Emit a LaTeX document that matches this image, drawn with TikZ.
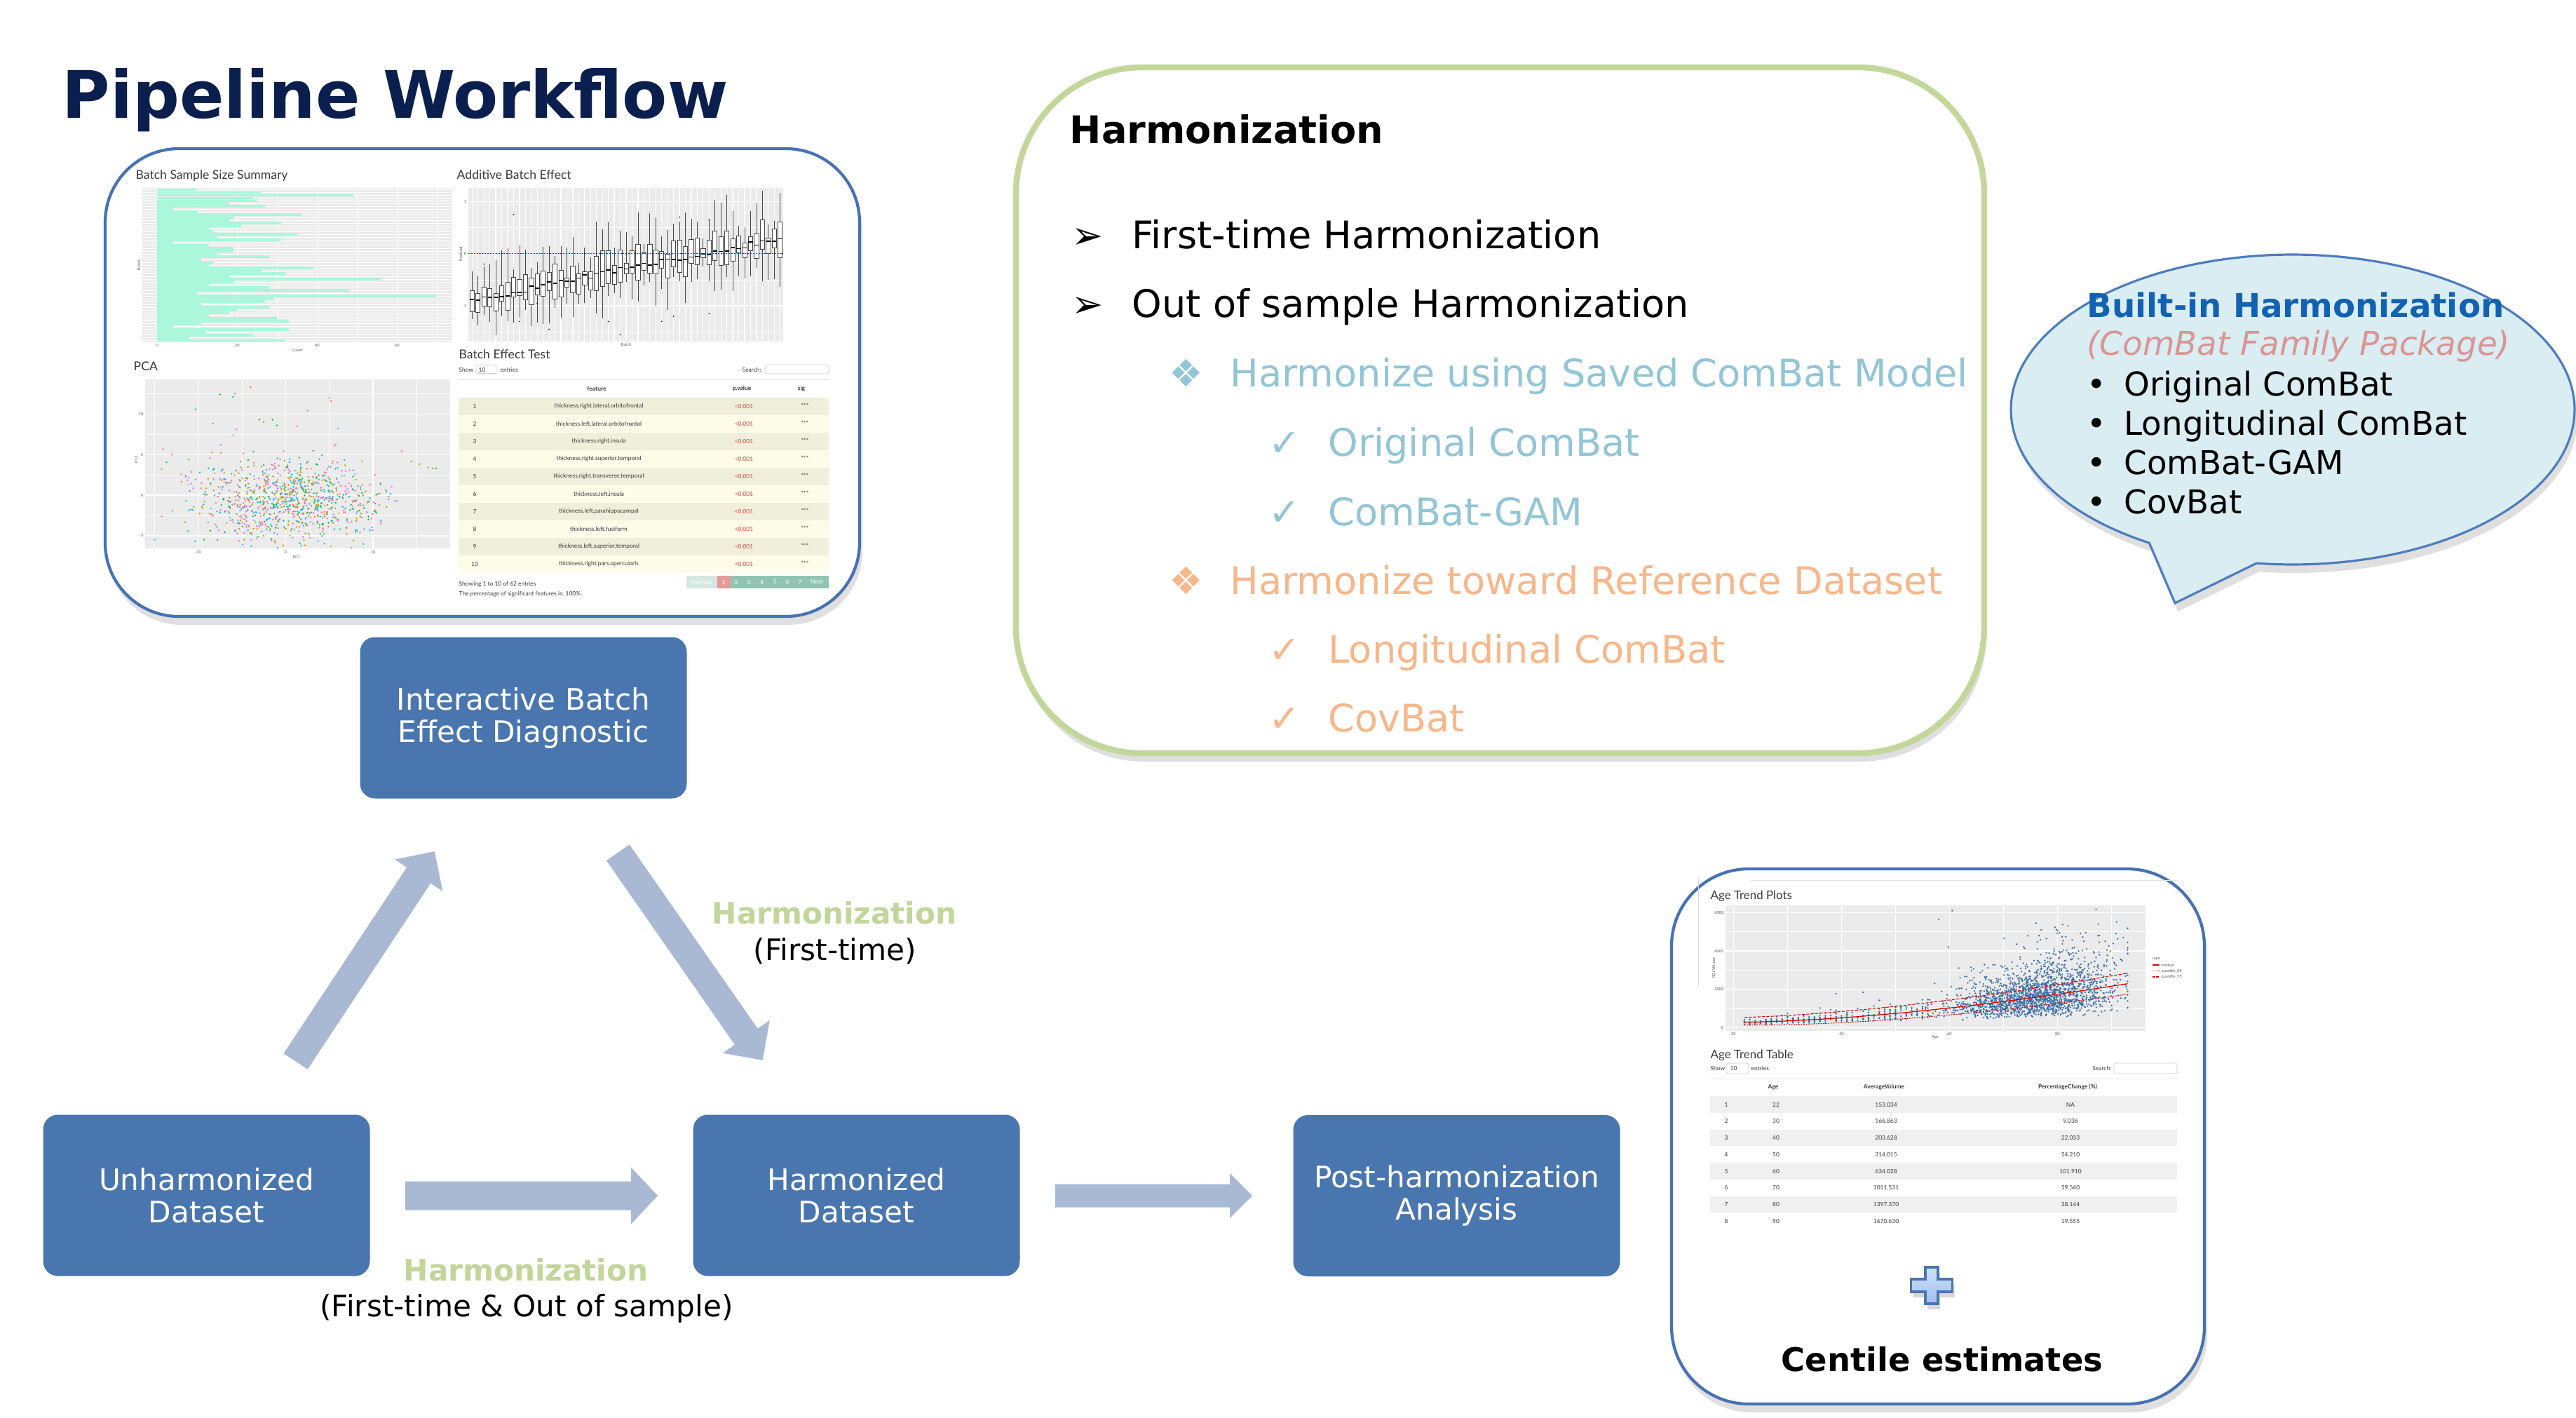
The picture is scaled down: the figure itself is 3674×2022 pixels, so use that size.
\documentclass[tikz,border=0pt]{standalone}
\usepackage{fontspec}
\setmainfont{DejaVu Sans}
\newfontfamily\shotfont{Lato}
\usetikzlibrary{arrows.meta,shadows,calc}
\definecolor{boxblue}{HTML}{4A76B0}
\definecolor{arrowblue}{HTML}{A9B9D4}
\definecolor{navy}{HTML}{0B1F4F}
\definecolor{labgreen}{HTML}{C2D59A}
\definecolor{panelgreen}{HTML}{C4D79B}
\definecolor{hteal}{HTML}{92C5D6}
\definecolor{horange}{HTML}{F7B78A}
\definecolor{bubfill}{HTML}{DAEDF3}
\definecolor{bubline}{HTML}{4D7CBE}
\definecolor{bubtitle}{HTML}{1262B3}
\definecolor{bubpink}{HTML}{D99694}
\definecolor{frameblue}{HTML}{4672B4}
\definecolor{ggbg}{HTML}{EBEBEB}
\definecolor{barcol}{HTML}{AAF7DC}
\definecolor{ptblue}{HTML}{3E70A8}
\definecolor{rowA}{HTML}{EFEFDC}
\definecolor{rowB}{HTML}{FCFCE9}
\definecolor{pgprev}{HTML}{D4E7E1}
\definecolor{pgone}{HTML}{E59A9A}
\definecolor{pgrest}{HTML}{92C4B3}
\definecolor{pvred}{HTML}{E8413C}
\definecolor{shottext}{HTML}{3A3A3A}
\definecolor{tabgray}{HTML}{F0F0F0}
\definecolor{plustop}{HTML}{CFE0F8}
\definecolor{plusbot}{HTML}{9FC0EE}
\definecolor{pcacol1}{HTML}{F8766D}
\definecolor{pcacol2}{HTML}{D39200}
\definecolor{pcacol3}{HTML}{93AA00}
\definecolor{pcacol4}{HTML}{00BA38}
\definecolor{pcacol5}{HTML}{00C19F}
\definecolor{pcacol6}{HTML}{00B9E3}
\definecolor{pcacol7}{HTML}{619CFF}
\definecolor{pcacol8}{HTML}{DB72FB}
\definecolor{pcacol9}{HTML}{FF61C3}
\newcommand{\blockarrowdraw}[5]{%
  \coordinate (#2-hb) at ($(#2)!#5!(#1)$);
  \fill[arrowblue] ($(#1)!#3!90:(#2)$) -- ($(#2-hb)!#3!90:(#2)$) -- ($(#2-hb)!#4!90:(#2)$) -- (#2)
     -- ($(#2-hb)!#4!-90:(#2)$) -- ($(#2-hb)!#3!-90:(#2)$) -- ($(#1)!#3!-90:(#2)$) -- cycle;}
\begin{document}
\begin{tikzpicture}[x=0.1mm,y=-0.1mm,
  tb/.style={inner sep=0pt, anchor=base west},
  tc/.style={inner sep=0pt, anchor=base},
  procbox/.style={fill=boxblue, rounded corners=2.1mm, minimum width=46.6mm, minimum height=23mm, inner sep=0pt, text=white, align=center, font=\fontsize{12}{13.1}\selectfont},
  shotframe/.style={draw=frameblue, line width=1.2pt, fill=white, inner sep=0pt, drop shadow={shadow xshift=0.4mm, shadow yshift=-1.2mm, opacity=0.25}},
  harmtxt/.style={tb, font=\fontsize{15.4}{18}\selectfont},
  bubtxt/.style={tb, font=\fontsize{13.3}{16}\selectfont},
  armlab/.style={tc, font=\fontsize{12}{14}\selectfont},
  shot/.style={inner sep=0pt, text=shottext, font=\shotfont\fontsize{2.4}{2.9}\selectfont},
  shotb/.style={shot, font=\shotfont\bfseries\fontsize{2.4}{2.9}\selectfont},
  shothead/.style={tb, text=shottext, font=\shotfont\fontsize{5}{6}\selectfont},
  axlab/.style={inner sep=0pt, text=gray!70!black, font=\shotfont\fontsize{1.6}{2}\selectfont},
  ggmajor/.style={white, line width=0.35pt},
  ggminor/.style={white, line width=0.18pt},
  boxline/.style={draw=gray!55!black, line width=0.22pt},
]
\useasboundingbox (0,0) rectangle (3674,2022);
\fill[white] (0,0) rectangle (3674,2022);
\pgfmathsetseed{4242}

% ---------- title
\node[tb, text=navy, font=\bfseries\fontsize{26.6}{30}\selectfont] (title) at (88,169) {Pipeline Workflow};

% ---------- diagnostic screenshot
\node[shotframe, rounded corners=10.5mm, minimum width=107.6mm, minimum height=66.7mm] (diagframe) at (688,545.5) {};

% bar chart
\node[shothead] (bsst) at (193,256) {Batch Sample Size Summary};
\fill[ggbg] (203,268) rectangle (645,488);
\foreach \gx in {281.3,395.3,509.3,623.3} \draw[ggminor] (\gx,268) -- (\gx,488);
\foreach \gx in {224.3,338.3,452.3,566.3} \draw[ggmajor] (\gx,268) -- (\gx,488);
\foreach \kk in {1,...,55} \draw[white, line width=0.2pt] (203,{268.3+3.99*(\kk-0.5)}) -- (645,{268.3+3.99*(\kk-0.5)});
\foreach \bv [count=\kk] in {10,26,49,24,25,18,27,4,10,36,19,18,31,21,13,14,35,15,31,4,13,19,19,15,28,11,14,13,39,26,32,18,56,19,13,28,48,10,70,29,27,11,28,20,18,13,30,33,11,4,33,12,24,8,32}
  \fill[barcol] (224.3,{268.3+3.99*(\kk-1)+0.25}) rectangle ({224.3+5.7*\bv},{268.3+3.99*\kk-0.25});
\foreach \tt/\gx in {0/224.3,20/338.3,40/452.3,60/566.3} \node[axlab, anchor=north] (bx\tt) at (\gx,490) {\tt};
\node[axlab, anchor=north] (bcount) at (424,497) {Count};
\node[axlab, rotate=90] (bbatch) at (198,378) {Batch};

% boxplot
\node[shothead] (abet) at (651,256) {Additive Batch Effect};
\fill[ggbg] (668,268) rectangle (1117,487);
\foreach \gy in {324.5,398.9,473.3} \draw[ggminor] (668,\gy) -- (1117,\gy);
\foreach \gy in {287.3,361.7,436.1} \draw[ggmajor] (668,\gy) -- (1117,\gy);
\foreach \ii in {0,...,52} \draw[ggmajor] ({673.3+8.45*\ii},268) -- ({673.3+8.45*\ii},487);
\begin{scope}
\clip (668,268) rectangle (1117,487);
\foreach \ii in {0,...,52}{
  \pgfmathsetmacro\cx{673.3+8.45*\ii}
  \pgfmathsetmacro\md{-0.9+1.2*\ii/52+0.06*rand}
  \pgfmathsetmacro\qa{\md-0.06-0.3*rnd}
  \pgfmathsetmacro\qb{\md+0.06+0.35*rnd}
  \pgfmathsetmacro\wa{\qa-0.15-0.5*rnd}
  \pgfmathsetmacro\wb{\qb+0.15+0.55*rnd}
  \draw[boxline] (\cx,{361.7-74.4*\wa}) -- (\cx,{361.7-74.4*\qa});
  \draw[boxline] (\cx,{361.7-74.4*\qb}) -- (\cx,{361.7-74.4*\wb});
  \filldraw[fill=white, boxline] ({\cx-3.1},{361.7-74.4*\qa}) rectangle ({\cx+3.1},{361.7-74.4*\qb});
  \draw[black, line width=0.45pt] ({\cx-3.1},{361.7-74.4*\md}) -- ({\cx+3.1},{361.7-74.4*\md});
}
\foreach \oi/\ov in {2/-0.2,4/-1.1,7/0.75,8/-1.3,11/-0.95,13/-1.45,23/-1.3,25/-1.55,32/-1.3,34/-1.2,35/0.7,40/0.65,40/-1.15}
  \fill[black] ({673.3+8.45*\oi},{361.7-74.4*\ov}) circle[radius=0.1mm];
\draw[red!85!black, line width=0.3pt, dash pattern=on 0.6pt off 0.5pt] (668,361.7) -- (1117,361.7);
\end{scope}
\foreach \tt/\gy in {1/287.3,0/361.7,-1/436.1} \node[axlab, anchor=east] (by\tt) at (666,\gy) {\tt};
\node[axlab, rotate=90] (bresid) at (657,362) {Residual};
\node[axlab, anchor=north] (bbatch2) at (893,489) {Batch};

% PCA
\node[shothead] (pcat) at (190,528) {PCA};
\fill[ggbg] (207,541) rectangle (642,782);
\foreach \gx in {220,344.9,469.7,594.5} \draw[ggminor] (\gx,541) -- (\gx,782);
\foreach \gx in {282.5,407.3,532.1} \draw[ggmajor] (\gx,541) -- (\gx,782);
\foreach \gy in {561.4,619.2,677.1,735} \draw[ggminor] (207,\gy) -- (642,\gy);
\foreach \gy in {590.3,648.2,706,763.9} \draw[ggmajor] (207,\gy) -- (642,\gy);
\begin{scope}
\clip (207,541) rectangle (642,782);
\foreach \ii in {1,...,950}{
  \pgfmathsetmacro\pxx{407.3+12.48*5.3*(rand+rand+rand)}
  \pgfmathsetmacro\pyy{706-11.57*(-0.6+2.5*(rand+rand+rand))}
  \pgfmathtruncatemacro\pcc{random(1,9)}
  \fill[fill=pcacol\pcc] (\pxx,\pyy) circle[radius=0.13mm];
}
\foreach \ox/\oy/\oc in {-7.5/12.4/4,-6/12.1/4,-5.8/12.5/1,-4/13.3/1,-10.3/10.6/6,5/12/1,5.2/11.6/1,2.5/10.4/9,-8.3/8.8/6,-3/9.3/4,-2.5/9/3,-1.5/9.3/4,-1/8.6/4,1.3/8.5/9,6/8.2/7,16.3/3.4/3,16.8/3.3/3,17.2/3.3/4,15.3/3.8/3,-14/5.7/1,-13/5/1,-9.3/-5.5/4,0.5/-5/2,-6/7.4/8,-5.6/8.1/8,-7.4/6.2/7}
  \fill[fill=pcacol\oc] ({407.3+12.48*\ox},{706-11.57*\oy}) circle[radius=0.13mm];
\end{scope}
\foreach \tt/\gx in {-10/282.5,0/407.3,10/532.1} \node[axlab, anchor=north] (px\tt) at (\gx,785) {\tt};
\foreach \tt/\gy in {10/590.3,5/648.2,0/706,-5/763.9} \node[axlab, anchor=east] (py\tt) at (205,\gy) {\tt};
\node[axlab, anchor=north] (pc1) at (423,792) {PC1};
\node[axlab, rotate=90] (pc2) at (194,655) {PC2};

% Batch effect test table
\node[shothead] (bett) at (654,511) {Batch Effect Test};
\node[shot, anchor=west] (bshow) at (654,527) {Show};
\draw[gray!40, line width=0.2pt, rounded corners=0.3mm] (678,520.5) rectangle (708,532.6);
\node[shot, anchor=west] (bten) at (682,527) {10};
\node[shot, anchor=west] (bentr) at (713,527) {entries};
\node[shot, anchor=west] (bsearch) at (1058,527) {Search:};
\draw[gray!40, line width=0.2pt, rounded corners=0.3mm] (1091,520) rectangle (1182,533);
\draw[gray!25, line width=0.2pt] (654,541.5) -- (1182,541.5);
\node[shotb] (hfeat) at (851,554) {feature};
\node[shotb] (hpval) at (1058,554) {p.value};
\node[shotb] (hsig) at (1143,554) {sig};
\fill[rowB] (654,567) rectangle (1182,817);
\foreach \kk in {1,3,5,7,9} \fill[rowA] (654,{567+25*(\kk-1)}) rectangle (1182,{567+25*\kk});
\foreach \ff [count=\kk] in {thickness.right.lateral.orbitofrontal,thickness.left.lateral.orbitofrontal,thickness.right.insula,thickness.right.superior.temporal,thickness.right.transverse.temporal,thickness.left.insula,thickness.left.parahippocampal,thickness.left.fusiform,thickness.left.superior.temporal,thickness.right.pars.opercularis}{
  \node[shot] (bn\kk) at (677,{579.5+25*(\kk-1)}) {\kk};
  \node[shot] (bf\kk) at (854,{579.5+25*(\kk-1)}) {\ff};
  \node[shot, text=pvred] (bp\kk) at (1061,{579.5+25*(\kk-1)}) {<0.001};
  \node[shot] (bs\kk) at (1148,{578.5+25*(\kk-1)}) {***};
}
\node[shot, anchor=west] (bshowing) at (654,833) {Showing 1 to 10 of 62 entries};
\node[shot, anchor=west] (bpct) at (654,847) {The percentage of significant features is: 100\%.};
\fill[pgprev] (979,821) rectangle (1022.5,839);
\fill[pgone] (1022.5,821) rectangle (1042,839);
\fill[pgrest] (1042,821) rectangle (1182,839);
\node[shot, text=white] (pgp) at (1000.7,830) {Previous};
\node[shot, text=white] (pg1) at (1032,830) {1};
\foreach \tt/\gx in {2/1050,3/1068,4/1086.7,5/1105,6/1123,7/1141} \node[shot, text=white] (pg\tt) at (\gx,830) {\tt};
\node[shot, text=white] (pgn) at (1165,830) {Next};

% ---------- Harmonization panel
\node[draw=panelgreen, line width=2.4pt, fill=white, rounded corners=18mm, minimum width=138.1mm, minimum height=97.8mm, inner sep=0pt, drop shadow={shadow xshift=0.3mm, shadow yshift=-1.2mm, opacity=0.25}] (hpanel) at (2139.5,585) {};
\node[tb, font=\bfseries\fontsize{15.4}{18}\selectfont] (hhead) at (1525,205) {Harmonization};
\node[harmtxt] (hb1) at (1528,355) {➢};
\node[harmtxt] (ht1) at (1614,355) {First-time Harmonization};
\node[harmtxt] (hb2) at (1528,453) {➢};
\node[harmtxt] (ht2) at (1614,453) {Out of sample Harmonization};
\node[harmtxt, text=hteal] (hb3) at (1667,552) {❖};
\node[harmtxt, text=hteal] (ht3) at (1754,552) {Harmonize using Saved ComBat Model};
\node[harmtxt, text=hteal] (hb4) at (1809,650) {✓};
\node[harmtxt, text=hteal] (ht4) at (1894,650) {Original ComBat};
\node[harmtxt, text=hteal] (hb5) at (1809,749) {✓};
\node[harmtxt, text=hteal] (ht5) at (1894,749) {ComBat-GAM};
\node[harmtxt, text=horange] (hb6) at (1667,847) {❖};
\node[harmtxt, text=horange] (ht6) at (1754,847) {Harmonize toward Reference Dataset};
\node[harmtxt, text=horange] (hb7) at (1809,945) {✓};
\node[harmtxt, text=horange] (ht7) at (1894,945) {Longitudinal ComBat};
\node[harmtxt, text=horange] (hb8) at (1809,1043) {✓};
\node[harmtxt, text=horange] (ht8) at (1894,1043) {CovBat};

% ---------- speech bubble
\filldraw[fill=bubfill, draw=bubline, line width=0.9pt, drop shadow={shadow xshift=0.4mm, shadow yshift=-1.2mm, opacity=0.25}]
  plot[domain=-239.4:97.4, samples=160] ({3270+402*cos(\x)},{584+221*sin(\x)}) -- (3102,860) -- cycle;
\node[tb, text=bubtitle, font=\bfseries\fontsize{13.3}{16}\selectfont] (bub1) at (2976,453) {Built-in Harmonization};
\node[tb, text=bubpink, font=\itshape\fontsize{13.3}{16}\selectfont] (bub2) at (2976,507) {(ComBat Family Package)};
\foreach \tt/\gy [count=\kk] in {Original ComBat/564,Longitudinal ComBat/620,ComBat-GAM/676,CovBat/732}{
  \node[bubtxt] (bubd\kk) at (2976,\gy) {•};
  \node[bubtxt] (bubt\kk) at (3029,\gy) {\tt};
}

% ---------- process boxes
\node[procbox] (interactive) at (746.5,1023.5) {Interactive Batch\\Effect Diagnostic};
\node[procbox] (unharm) at (294.5,1704.5) {Unharmonized\\Dataset};
\node[procbox] (harmd) at (1221.5,1704.5) {Harmonized\\Dataset};
\node[procbox] (posth) at (2077.5,1705) {Post-harmonization\\Analysis};

% ---------- block arrows
\coordinate (a1s) at (421.6,1513.5);
\coordinate (a1e) at (619.8,1214);
\coordinate (a2s) at (881.3,1215.7);
\coordinate (a2e) at (1087.7,1511.8);
\coordinate (a3s) at (578,1705);
\coordinate (a3e) at (938,1705);
\coordinate (a4s) at (1505,1705);
\coordinate (a4e) at (1786,1705);
\blockarrowdraw{a1s}{a1e}{2.05mm}{4.1mm}{4.1mm}
\blockarrowdraw{a2s}{a2e}{2.0mm}{4.1mm}{4.1mm}
\blockarrowdraw{a3s}{a3e}{2.05mm}{4.05mm}{3.8mm}
\blockarrowdraw{a4s}{a4e}{1.65mm}{3.2mm}{3.2mm}

% ---------- arrow labels
\node[armlab, text=labgreen, font=\bfseries\fontsize{12}{14}\selectfont] (lab1) at (1190,1317) {Harmonization};
\node[armlab] (lab1b) at (1191,1369) {(First-time)};
\node[armlab, text=labgreen, font=\bfseries\fontsize{12}{14}\selectfont] (lab2) at (750,1826) {Harmonization};
\node[armlab] (lab2b) at (751,1877) {(First-time \& Out of sample)};

% ---------- centile screenshot
\node[shotframe, rounded corners=11mm, minimum width=76mm, minimum height=76.3mm] (centframe) at (2764,1620.5) {};
\draw[gray!30, line width=0.2pt] (2422,1250) -- (2422,1406);
\draw[gray!20, line width=0.2pt] (2496,1255) -- (3105,1255);
\node[shothead, font=\shotfont\fontsize{4.8}{6}\selectfont] (atp) at (2439,1282) {Age Trend Plots};
\fill[ggbg] (2461,1291) rectangle (3060,1470);
\foreach \gx in {2549.4,2703.4,2857.4,3011.4} \draw[ggminor] (\gx,1291) -- (\gx,1470);
\foreach \gx in {2472.4,2626.4,2780.4,2934.4} \draw[ggmajor] (\gx,1291) -- (\gx,1470);
\foreach \gy in {1438.3,1383.5,1328.7} \draw[ggminor] (2461,\gy) -- (3060,\gy);
\foreach \gy in {1465.7,1410.9,1356.1,1301.3} \draw[ggmajor] (2461,\gy) -- (3060,\gy);
\begin{scope}
\clip (2461,1291) rectangle (3060,1470);
\foreach \ii in {1,...,300}{
  \pgfmathsetmacro\ag{int(random(22,56))}
  \pgfmathsetmacro\mv{300+2000*pow((\ag-21.9)/71.1,1.6)}
  \pgfmathsetmacro\vv{max(120,\mv*exp(0.3*(rand+rand+rand)))}
  \fill[ptblue] ({2472.4+7.7*(\ag-20)},{1465.7-0.0274*\vv}) circle[radius=0.13mm];
}
\foreach \ii in {1,...,2000}{
  \pgfmathsetmacro\ag{max(52,min(93,76+7.5*(rand+rand+rand)))}
  \pgfmathsetmacro\mv{300+2000*pow((\ag-21.9)/71.1,1.6)}
  \pgfmathsetmacro\vv{max(200,(\mv+80)*exp(0.42*(rand+rand+rand)))}
  \fill[ptblue] ({2472.4+7.7*(\ag-20)},{1465.7-0.0274*\vv}) circle[radius=0.13mm];
}
\foreach \ox/\oy in {58/5650,60.5/6100,59.8/4200,76/5450,77/5100,82/5300,87.5/4800,39/1780,44/1850}
  \fill[ptblue] ({2472.4+7.7*(\ox-20)},{1465.7-0.0274*\oy}) circle[radius=0.13mm];
\draw[red!90!black, line width=0.35pt] plot[domain=22:93, samples=40] ({2472.4+7.7*(\x-20)},{1465.7-0.0274*(300+2000*pow((\x-21.9)/71.1,1.6))});
\draw[red!90!black, line width=0.3pt, dash pattern=on 0.5pt off 0.5pt] plot[domain=22:93, samples=40] ({2472.4+7.7*(\x-20)},{1465.7-0.0274*(150-5.634*(\x-22)+2000*pow((\x-21.9)/71.1,1.6))});
\draw[red!90!black, line width=0.3pt, dash pattern=on 1.2pt off 0.6pt] plot[domain=22:93, samples=40] ({2472.4+7.7*(\x-20)},{1465.7-0.0274*(550+4.225*(\x-22)+2000*pow((\x-21.9)/71.1,1.6))});
\end{scope}
\foreach \tt/\gy in {0/1465.7,2000/1410.9,4000/1356.1,6000/1301.3} \node[axlab, anchor=east] (ay\tt) at (2459,\gy) {\tt};
\foreach \tt/\gx in {20/2472.4,40/2626.4,60/2780.4,80/2934.4} \node[axlab, anchor=north] (ax\tt) at (\gx,1472) {\tt};
\node[axlab, rotate=90] (aroi) at (2444,1380) {ROI Volume};
\node[axlab, anchor=north] (aage) at (2760,1476) {Age};
\node[axlab, anchor=west] (atype) at (3069,1367) {type};
\draw[red!90!black, line width=0.3pt] (3070,1376) -- (3080,1376);
\draw[red!90!black, line width=0.3pt, dash pattern=on 0.4pt off 0.4pt] (3070,1384.5) -- (3080,1384.5);
\draw[red!90!black, line width=0.3pt, dash pattern=on 1pt off 0.5pt] (3070,1393) -- (3080,1393);
\node[axlab, anchor=west] (amed) at (3082,1376) {median};
\node[axlab, anchor=west] (aq05) at (3082,1384.5) {quantile\_05};
\node[axlab, anchor=west] (aq95) at (3082,1393) {quantile\_95};

\node[shothead, font=\shotfont\fontsize{4.8}{6}\selectfont] (att) at (2439,1509) {Age Trend Table};
\node[shot, anchor=west] (ashow) at (2439,1523.5) {Show};
\draw[gray!40, line width=0.2pt, rounded corners=0.3mm] (2462,1516) rectangle (2494,1531);
\node[shot, anchor=west] (aten) at (2467,1523.5) {10};
\node[shot, anchor=west] (aentr) at (2497,1523.5) {entries};
\node[shot, anchor=east] (asearch) at (3012,1523.5) {Search:};
\draw[gray!40, line width=0.2pt, rounded corners=0.3mm] (3015,1516) rectangle (3105,1531);
\draw[gray!20, line width=0.2pt] (2439,1538) -- (3105,1538);
\node[shotb] (hage) at (2529,1550) {Age};
\node[shotb] (havg) at (2687,1550) {AverageVolume};
\node[shotb] (hpct) at (2949,1550) {PercentageChange (\%)};
\foreach \kk in {1,3,5,7} \fill[tabgray] (2439,{1563+23.75*(\kk-1)}) rectangle (3105,{1563+23.75*\kk});
\foreach \ca/\cb/\cc/\cd in {1/22/153.034/NA,2/30/166.863/9.036,3/40/203.628/22.033,4/50/314.015/54.210,5/60/634.028/101.910,6/70/1011.531/59.540,7/80/1397.370/38.144,8/90/1670.630/19.555}{
  \node[shot] (ai\ca) at (2462,{1575+23.75*(\ca-1)}) {\ca};
  \node[shot] (aa\ca) at (2533,{1575+23.75*(\ca-1)}) {\cb};
  \node[shot] (av\ca) at (2690,{1575+23.75*(\ca-1)}) {\cc};
  \node[shot] (ap\ca) at (2953,{1575+23.75*(\ca-1)}) {\cd};
}
% plus sign
\filldraw[top color=plustop, bottom color=plusbot, draw=boxblue, line width=1pt, drop shadow={shadow xshift=0.3mm, shadow yshift=-0.8mm, opacity=0.3}]
  (2746,1807) -- (2764,1807) -- (2764,1824) -- (2784.5,1824) -- (2784.5,1842) -- (2764,1842) -- (2764,1859)
  -- (2746,1859) -- (2746,1842) -- (2725.5,1842) -- (2725.5,1824) -- (2746,1824) -- cycle;
\node[tc, font=\bfseries\fontsize{13.2}{16}\selectfont] (centile) at (2770,1955) {Centile estimates};
\end{tikzpicture}
\end{document}
